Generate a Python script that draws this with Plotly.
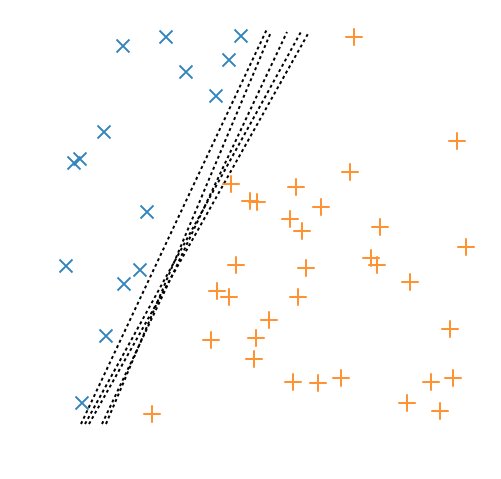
import plotly.graph_objects as go

# Class A (blue x) points, data coordinates (y up)
class_a_x = [123, 166, 241, 186, 229, 216, 104, 80, 74, 147, 66, 140, 124, 106, 82]
class_a_y = [433, 442, 443, 407, 419, 383, 347, 320, 316, 267, 213, 209, 195, 143, 76]

# Class B (orange +) points
class_b_x = [231, 250, 257, 354, 457, 350, 296, 321, 290, 302, 380, 236, 217, 229, 211,
             152, 466, 371, 377, 306, 410, 298, 269, 256, 254, 450, 293, 318, 341, 431,
             453, 407, 440]
class_b_y = [295, 278, 277, 442, 338, 307, 292, 272, 260, 248, 252, 214, 188, 182, 139,
             65, 232, 221, 214, 211, 197, 182, 159, 141, 120, 150, 97, 96, 101, 97,
             101, 76, 68]

# Decision boundaries: (x at bottom, x at top), y from 55 up to top
boundary_bottom_x = [81, 106, 102, 85, 89]
boundary_top_x = [267, 271, 287, 302, 309]
boundary_top_y = [450, 447, 447, 449, 447]
boundary_bottom_y = 55

fig = go.Figure()
for bx, tx, ty in zip(boundary_bottom_x, boundary_top_x, boundary_top_y):
    fig.add_trace(go.Scatter(
        x=[bx, tx], y=[boundary_bottom_y, ty], mode="lines",
        line=dict(color="black", width=2, dash="dot"), showlegend=False,
        hoverinfo="skip"))

fig.add_trace(go.Scatter(
    x=class_a_x, y=class_a_y, mode="markers",
    marker=dict(symbol="x-thin", size=13, color="#1f77b4",
                line=dict(width=1.8, color="#1f77b4")),
    opacity=0.9, showlegend=False))
fig.add_trace(go.Scatter(
    x=class_b_x, y=class_b_y, mode="markers",
    marker=dict(symbol="cross-thin", size=12.5, color="#ff7f0e",
                line=dict(width=2, color="#ff7f0e")),
    opacity=0.85, showlegend=False))

fig.update_layout(
    width=501, height=479,
    margin=dict(l=0, r=0, t=0, b=0),
    paper_bgcolor="white", plot_bgcolor="white",
    xaxis=dict(range=[0, 501], visible=False),
    yaxis=dict(range=[0, 479], visible=False),
)
fig.write_html("out.html")
